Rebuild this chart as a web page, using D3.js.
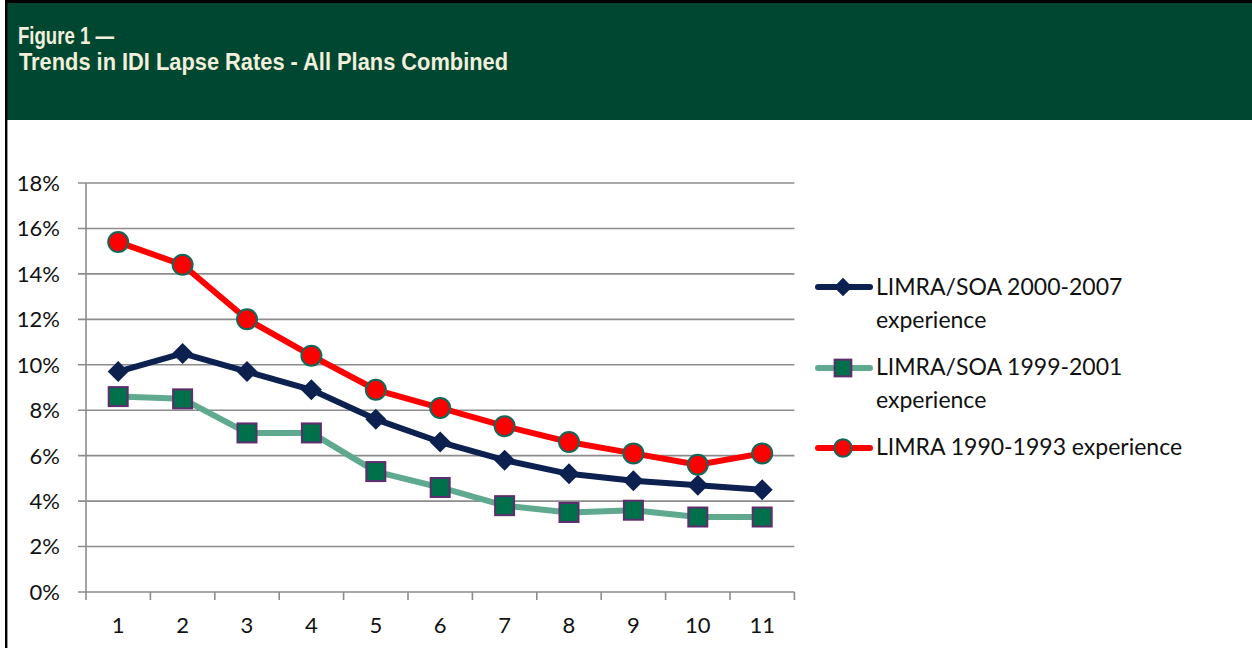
<!DOCTYPE html>
<html>
<head>
<meta charset="utf-8">
<script src="https://cdn.jsdelivr.net/npm/d3@7"></script>
<style>
  html, body { margin: 0; padding: 0; background: #fff; }
  svg { display: block; }
</style>
</head>
<body>
<svg id="chart" width="1252" height="648"></svg>
<script>
// ---- data ----
const categories = ["1","2","3","4","5","6","7","8","9","10","11"];
const yTicks = [0, 2, 4, 6, 8, 10, 12, 14, 16, 18];
const seriesNames = ["LIMRA/SOA 2000-2007 experience", "LIMRA/SOA 1999-2001 experience", "LIMRA 1990-1993 experience"];
const limraSoa2000_2007 = [9.7, 10.5, 9.7, 8.9, 7.6, 6.6, 5.8, 5.2, 4.9, 4.7, 4.5];
const limraSoa1999_2001 = [8.6, 8.5, 7.0, 7.0, 5.3, 4.6, 3.8, 3.5, 3.6, 3.3, 3.3];
const limra1990_1993   = [15.4, 14.4, 12.0, 10.4, 8.9, 8.1, 7.3, 6.6, 6.1, 5.6, 6.1];
const titleLine1 = "Figure 1 \u2014";
const titleLine2 = "Trends in IDI Lapse Rates - All Plans Combined";

(function () {
const svg = d3.select("#chart");
const W = 1252, H = 648;

// frame + header
svg.append("rect").attr("x", 0).attr("y", 0).attr("width", W).attr("height", H).attr("fill", "#fff");
svg.append("rect").attr("x", 7).attr("y", 3).attr("width", W - 7).attr("height", 117).attr("fill", "#004731");
svg.append("rect").attr("x", 5).attr("y", 0).attr("width", W - 5).attr("height", 3).attr("fill", "#000");
svg.append("rect").attr("x", 5).attr("y", 0).attr("width", 2.4).attr("height", H).attr("fill", "#000");

const hdrFont = "'Liberation Sans', Arial, sans-serif";
svg.append("text").attr("x", 18).attr("y", 44).text(titleLine1)
  .attr("font-family", hdrFont).attr("font-weight", "bold").attr("font-size", 23)
  .attr("textLength", 96).attr("lengthAdjust", "spacingAndGlyphs").attr("fill", "#F2EFDC");
svg.append("text").attr("x", 19).attr("y", 70).text(titleLine2)
  .attr("font-family", hdrFont).attr("font-weight", "bold").attr("font-size", 23)
  .attr("textLength", 489).attr("lengthAdjust", "spacingAndGlyphs").attr("fill", "#F2EFDC");

// scales
const pLeft = 86, pRight = 794.4, pTop = 183, pBottom = 592;
const x = d3.scaleBand().domain(categories).range([pLeft, pRight]);
const y = d3.scaleLinear().domain([0, 18]).range([pBottom, pTop]);
const cx = c => x(c) + x.bandwidth() / 2;

const font = "Lato, 'Open Sans', sans-serif";
const gridColor = "#8c8c8c";

// gridlines
const g = svg.append("g");
g.selectAll("line.grid").data(yTicks).enter().append("line")
  .attr("x1", pLeft - 8).attr("x2", pRight).attr("y1", d => y(d)).attr("y2", d => y(d))
  .attr("stroke", gridColor).attr("stroke-width", 1.6);
// y axis line
g.append("line").attr("x1", pLeft).attr("x2", pLeft).attr("y1", pTop).attr("y2", pBottom + 8)
  .attr("stroke", gridColor).attr("stroke-width", 1.6);
// x ticks at band boundaries
const bounds = categories.map(c => x(c)).concat([pRight]);
g.selectAll("line.xt").data(bounds.slice(1)).enter().append("line")
  .attr("x1", d => d).attr("x2", d => d).attr("y1", pBottom).attr("y2", pBottom + 8)
  .attr("stroke", gridColor).attr("stroke-width", 1.6);

// tick labels
g.selectAll("text.yl").data(yTicks).enter().append("text")
  .attr("x", 60).attr("y", d => y(d)).attr("dy", "0.36em")
  .attr("text-anchor", "end").attr("font-family", font).attr("font-size", 22).attr("fill", "#111")
  .text(d => d + "%");
g.selectAll("text.xl").data(categories).enter().append("text")
  .attr("x", d => cx(d)).attr("y", 633)
  .attr("text-anchor", "middle").attr("font-family", font).attr("font-size", 22).attr("fill", "#111")
  .text(d => d);

// series styles
const series = [
  { name: seriesNames[0], values: limraSoa2000_2007, line: "#0c2150", marker: "diamond", fill: "#0c2150", stroke: "#0c2150" },
  { name: seriesNames[1], values: limraSoa1999_2001, line: "#5faa8e", marker: "square", fill: "#00704a", stroke: "#5e2d6e" },
  { name: seriesNames[2], values: limra1990_1993, line: "#ff0000", marker: "circle", fill: "#ff0000", stroke: "#12695a" }
];

const lineGen = d3.line().x((d, i) => cx(categories[i])).y(d => y(d));

function drawMarker(sel, s, px, py, scale) {
  if (s.marker === "diamond") {
    const r = 10.5 * scale;
    sel.append("path").attr("d", `M${px},${py - r}L${px + r},${py}L${px},${py + r}L${px - r},${py}Z`)
      .attr("fill", s.fill);
  } else if (s.marker === "square") {
    const h = 9.5 * scale;
    sel.append("rect").attr("x", px - h).attr("y", py - h).attr("width", 2 * h).attr("height", 2 * h)
      .attr("fill", s.fill).attr("stroke", s.stroke).attr("stroke-width", 2);
  } else {
    sel.append("circle").attr("cx", px).attr("cy", py).attr("r", 10 * scale)
      .attr("fill", s.fill).attr("stroke", s.stroke).attr("stroke-width", 2);
  }
}

// draw in order: green, navy, red (red on top)
const order = [1, 0, 2];
order.forEach(k => {
  const s = series[k];
  svg.append("path").datum(s.values).attr("d", lineGen)
    .attr("fill", "none").attr("stroke", s.line).attr("stroke-width", 6).attr("stroke-linejoin", "round");
});
order.forEach(k => {
  const s = series[k];
  const mg = svg.append("g");
  s.values.forEach((v, i) => drawMarker(mg, s, cx(categories[i]), y(v), 1));
});

// legend
const legend = [
  { s: series[0], cy: 287, lines: ["LIMRA/SOA 2000-2007", "experience"], base: 295 },
  { s: series[1], cy: 368, lines: ["LIMRA/SOA 1999-2001", "experience"], base: 375 },
  { s: series[2], cy: 448, lines: ["LIMRA 1990-1993 experience"], base: 455 }
];
legend.forEach(item => {
  const lg = svg.append("g");
  lg.append("line").attr("x1", 818).attr("x2", 870).attr("y1", item.cy).attr("y2", item.cy)
    .attr("stroke", item.s.line).attr("stroke-width", 6).attr("stroke-linecap", "round");
  drawMarker(lg, item.s, 843, item.cy, 0.88);
  item.lines.forEach((t, j) => {
    lg.append("text").attr("x", 876).attr("y", item.base + j * 33)
      .attr("font-family", font).attr("font-size", 23).attr("fill", "#111").text(t);
  });
});
})();
</script>
</body>
</html>
